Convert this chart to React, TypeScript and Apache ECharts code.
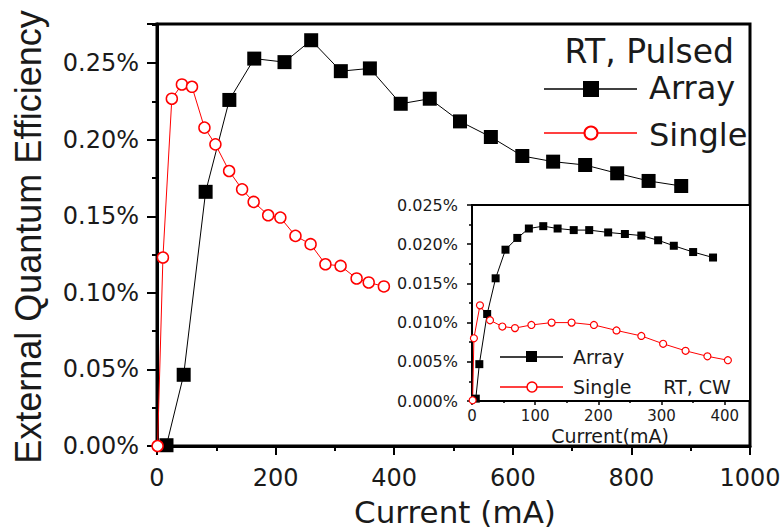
import React, { useEffect, useRef } from 'react';
import * as echarts from 'echarts';

// ---- Main plot (RT, Pulsed) ----
const arrayPulsedCurrent = [16, 45, 82, 122, 164, 215, 260, 310, 359, 411, 460, 511, 563, 616, 668, 722, 776, 829, 884];
const arrayPulsedEQE = [0.0005, 0.0465, 0.166, 0.226, 0.253, 0.2507, 0.265, 0.2448, 0.2466, 0.2235, 0.2268, 0.212, 0.2018, 0.1894, 0.1857, 0.1835, 0.1781, 0.1731, 0.1698];
const singlePulsedCurrent = [1, 10, 25, 42, 59, 80, 98.5, 121.6, 143.5, 163, 187.5, 208, 233.5, 259, 284, 309.6, 336.6, 357, 382.6];
const singlePulsedEQE = [0, 0.1231, 0.2268, 0.2361, 0.2346, 0.2079, 0.197, 0.1796, 0.1676, 0.1594, 0.1507, 0.1492, 0.1372, 0.1318, 0.1187, 0.1176, 0.1094, 0.1068, 0.1042];

// ---- Inset (RT, CW) ----
const arrayCWCurrent = [6, 11.6, 24, 37.4, 53, 71.7, 90, 112.8, 135.5, 161, 185.5, 215.5, 242, 268, 294.6, 319.4, 350, 381.5];
const arrayCWEQE = [0.0003, 0.0047, 0.0111, 0.01565, 0.0193, 0.0208, 0.022, 0.0223, 0.022, 0.0218, 0.0218, 0.0215, 0.0213, 0.0211, 0.0205, 0.0198, 0.019, 0.0183];
const singleCWCurrent = [1, 3, 12.6, 28.5, 48, 68, 94, 126, 157.6, 193, 228.7, 268, 302.5, 338, 372.6, 405];
const singleCWEQE = [0.0001, 0.008, 0.0122, 0.0103, 0.0095, 0.0093, 0.0097, 0.01, 0.01, 0.0097, 0.009, 0.0083, 0.0073, 0.0064, 0.0057, 0.0052];

// ---- Axes / texts ----
const mainXAxis = { min: 0, max: 1000, interval: 200 };
const mainYAxis = { min: 0, max: 0.2756, interval: 0.05 };
const insetXAxis = { min: 0, max: 440, interval: 100 };
const insetYAxis = { min: 0, max: 0.025, interval: 0.005 };
const yTitle = 'External Quantum Efficiency';
const xTitle = 'Current (mA)';
const insetXTitle = 'Current(mA)';
const seriesNames = ['Array', 'Single'];
const mainLegendTitle = 'RT, Pulsed';
const insetLegendTitle = 'RT, CW';

const zip = (xs: number[], ys: number[]) => xs.map((x, i) => [x, ys[i]]);
const isMultiple = (v: number, step: number) => Math.abs(v / step - Math.round(v / step)) < 1e-6;

const BLACK = '#000';
const RED = '#ff0000';
const TXT = '#1a1a1a';
const DV = 'DejaVu Sans';

export default function App() {
  const ref = useRef<HTMLDivElement>(null);
  useEffect(() => {
    if (!ref.current) return;
    const chart = echarts.init(ref.current, undefined, { renderer: 'svg' });

    const axisCommon = (w: number, tickLen: number, minorLen: number, fs: number, margin: number, step: number, fmt: (v: number) => string) => ({
      type: 'value',
      splitLine: { show: false },
      axisLine: { show: true, onZero: false, lineStyle: { color: BLACK, width: w } },
      axisTick: { show: true, inside: false, length: tickLen, lineStyle: { color: BLACK, width: w > 2 ? 2 : 1.5 } },
      minorTick: { show: true, splitNumber: 2, length: minorLen, lineStyle: { color: BLACK, width: w > 2 ? 2 : 1.5 } },
      minorSplitLine: { show: false },
      axisLabel: {
        show: true,
        color: TXT,
        fontFamily: DV,
        fontSize: fs,
        margin,
        hideOverlap: false,
        formatter: (v: number) => (isMultiple(v, step) ? fmt(v) : ''),
      },
    });

    const option: any = {
      animation: false,
      backgroundColor: '#fff',
      grid: [
        { left: 157, top: 24, width: 593, height: 422, show: true, borderColor: BLACK, borderWidth: 3, backgroundColor: 'transparent', containLabel: false, outerBoundsMode: 'none' },
        { left: 472, top: 205, width: 278, height: 196, show: true, borderColor: BLACK, borderWidth: 2, backgroundColor: '#fff', containLabel: false, outerBoundsMode: 'none', z: 5 },
      ],
      xAxis: [
        { gridIndex: 0, ...mainXAxis, ...axisCommon(3, 9, 5, 24, 20, mainXAxis.interval, (v) => String(v)) },
        { gridIndex: 1, ...insetXAxis, ...axisCommon(2, 4, 2, 15, 7, insetXAxis.interval, (v) => String(v)), z: 6 },
      ],
      yAxis: [
        { gridIndex: 0, ...mainYAxis, ...axisCommon(3, 10, 5, 24, 18, mainYAxis.interval, (v) => v.toFixed(2) + '%') },
        { gridIndex: 1, ...insetYAxis, ...axisCommon(2, 5, 3, 16, 14, insetYAxis.interval, (v) => v.toFixed(3) + '%'), z: 6 },
      ],
      series: [
        {
          name: 'Array (pulsed)', type: 'line', xAxisIndex: 0, yAxisIndex: 0,
          data: zip(arrayPulsedCurrent, arrayPulsedEQE),
          symbol: 'rect', symbolSize: 14,
          itemStyle: { color: BLACK },
          lineStyle: { color: BLACK, width: 1 },
        },
        {
          name: 'Single (pulsed)', type: 'line', xAxisIndex: 0, yAxisIndex: 0,
          data: zip(singlePulsedCurrent, singlePulsedEQE),
          symbol: 'circle', symbolSize: 11,
          itemStyle: { color: '#fff', borderColor: RED, borderWidth: 1.5 },
          lineStyle: { color: RED, width: 1 },
        },
        {
          name: 'Array (CW)', type: 'line', xAxisIndex: 1, yAxisIndex: 1, z: 7,
          data: zip(arrayCWCurrent, arrayCWEQE),
          symbol: 'rect', symbolSize: 8,
          itemStyle: { color: BLACK },
          lineStyle: { color: BLACK, width: 1 },
        },
        {
          name: 'Single (CW)', type: 'line', xAxisIndex: 1, yAxisIndex: 1, z: 7,
          data: zip(singleCWCurrent, singleCWEQE),
          symbol: 'circle', symbolSize: 7,
          itemStyle: { color: '#fff', borderColor: RED, borderWidth: 1.2 },
          lineStyle: { color: RED, width: 1 },
        },
      ],
      graphic: [
        // axis titles
        { type: 'text', x: 28, y: 237, rotation: Math.PI / 2, style: { text: yTitle, fill: TXT, fontFamily: 'Liberation Sans', fontSize: 36, textAlign: 'center', textVerticalAlign: 'middle' } },
        { type: 'text', x: 455, y: 512, style: { text: xTitle, fill: TXT, fontFamily: DV, fontSize: 31, textAlign: 'center', textVerticalAlign: 'middle' } },
        // main legend
        { type: 'text', x: 734, y: 51, style: { text: mainLegendTitle, fill: TXT, fontFamily: DV, fontSize: 33, textAlign: 'right', textVerticalAlign: 'middle' } },
        { type: 'line', shape: { x1: 544, y1: 89, x2: 637, y2: 89 }, style: { stroke: BLACK, lineWidth: 1.5 } },
        { type: 'rect', shape: { x: 583, y: 81, width: 16, height: 16 }, style: { fill: BLACK } },
        { type: 'text', x: 649, y: 88, style: { text: seriesNames[0], fill: TXT, fontFamily: DV, fontSize: 32, textAlign: 'left', textVerticalAlign: 'middle' } },
        { type: 'line', shape: { x1: 544, y1: 133, x2: 637, y2: 133 }, style: { stroke: RED, lineWidth: 1.5 } },
        { type: 'circle', shape: { cx: 591, cy: 133, r: 6.5 }, style: { fill: '#fff', stroke: RED, lineWidth: 2 } },
        { type: 'text', x: 649, y: 135, style: { text: seriesNames[1], fill: TXT, fontFamily: DV, fontSize: 32, textAlign: 'left', textVerticalAlign: 'middle' } },
        // inset legend
        { type: 'line', z: 20, shape: { x1: 500, y1: 357, x2: 563, y2: 357 }, style: { stroke: BLACK, lineWidth: 1.5 } },
        { type: 'rect', z: 20, shape: { x: 526, y: 351, width: 11, height: 11 }, style: { fill: BLACK } },
        { type: 'text', z: 20, x: 573, y: 357, style: { text: seriesNames[0], fill: TXT, fontFamily: DV, fontSize: 19, textAlign: 'left', textVerticalAlign: 'middle' } },
        { type: 'line', z: 20, shape: { x1: 500, y1: 387, x2: 563, y2: 387 }, style: { stroke: RED, lineWidth: 1.5 } },
        { type: 'circle', z: 20, shape: { cx: 532, cy: 387, r: 5 }, style: { fill: '#fff', stroke: RED, lineWidth: 1.5 } },
        { type: 'text', z: 20, x: 573, y: 387, style: { text: seriesNames[1], fill: TXT, fontFamily: DV, fontSize: 19, textAlign: 'left', textVerticalAlign: 'middle' } },
        { type: 'text', z: 20, x: 697, y: 387, style: { text: insetLegendTitle, fill: TXT, fontFamily: DV, fontSize: 19, textAlign: 'center', textVerticalAlign: 'middle' } },
        { type: 'text', z: 20, x: 610, y: 436, style: { text: insetXTitle, fill: TXT, fontFamily: DV, fontSize: 19, textAlign: 'center', textVerticalAlign: 'middle' } },
      ],
    };
    chart.setOption(option);
    return () => chart.dispose();
  }, []);
  return <div ref={ref} style={{ position: 'absolute', left: 0, top: 0, width: 781, height: 531 }} />;
}
